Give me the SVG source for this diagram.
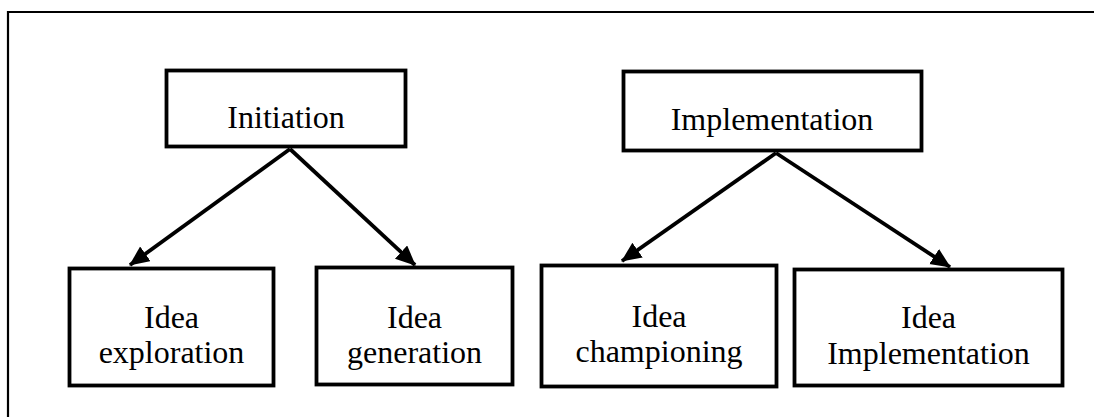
<svg xmlns="http://www.w3.org/2000/svg" width="1094" height="417" viewBox="0 0 1094 417">
<style>
.box{fill:#fff;stroke:#000;stroke-width:3.8}
text{font-family:'Liberation Serif','DejaVu Serif','Times New Roman',serif;font-size:32px;fill:#000;text-anchor:middle}
.conn{stroke:#000;stroke-width:3.8;fill:none;marker-end:url(#ah)}
.frame{stroke:#000;stroke-width:2.2;fill:none}
</style>
<defs>
<marker id="ah" markerUnits="userSpaceOnUse" markerWidth="22" markerHeight="20" refX="19" refY="9" orient="auto">
<path d="M0,0 L20,9 L0,18 Z" fill="#000"/>
</marker>
</defs>
<rect width="1094" height="417" fill="#fff"/>
<path class="frame" d="M8,417 L8,12 L1094,12"/>
<g id="connectors">
<line class="conn" x1="290" y1="149" x2="130" y2="265"/>
<line class="conn" x1="290" y1="149" x2="415" y2="265"/>
<line class="conn" x1="776" y1="153" x2="622" y2="261"/>
<line class="conn" x1="776" y1="153" x2="950" y2="267"/>
</g>
<g id="initiation" font-family="Liberation Serif, serif">
<rect class="box" x="166.5" y="70.5" width="239" height="76"/>
<text x="286" y="128">Initiation</text>
</g>
<g id="implementation" font-family="Liberation Serif, serif">
<rect class="box" x="623.5" y="71.5" width="298" height="79"/>
<text x="772" y="130">Implementation</text>
</g>
<g id="idea-exploration" font-family="Liberation Serif, serif">
<rect class="box" x="69.5" y="268.5" width="204" height="117"/>
<text x="171.5" y="328">Idea</text>
<text x="171.5" y="363">exploration</text>
</g>
<g id="idea-generation" font-family="Liberation Serif, serif">
<rect class="box" x="316.5" y="267.5" width="196" height="117"/>
<text x="414.5" y="328">Idea</text>
<text x="414.5" y="363">generation</text>
</g>
<g id="idea-championing" font-family="Liberation Serif, serif">
<rect class="box" x="541.5" y="265.5" width="235" height="121"/>
<text x="659" y="327">Idea</text>
<text x="659" y="362">championing</text>
</g>
<g id="idea-implementation" font-family="Liberation Serif, serif">
<rect class="box" x="794.5" y="269.5" width="268" height="116"/>
<text x="928.5" y="328">Idea</text>
<text x="928.5" y="364">Implementation</text>
</g>
</svg>
